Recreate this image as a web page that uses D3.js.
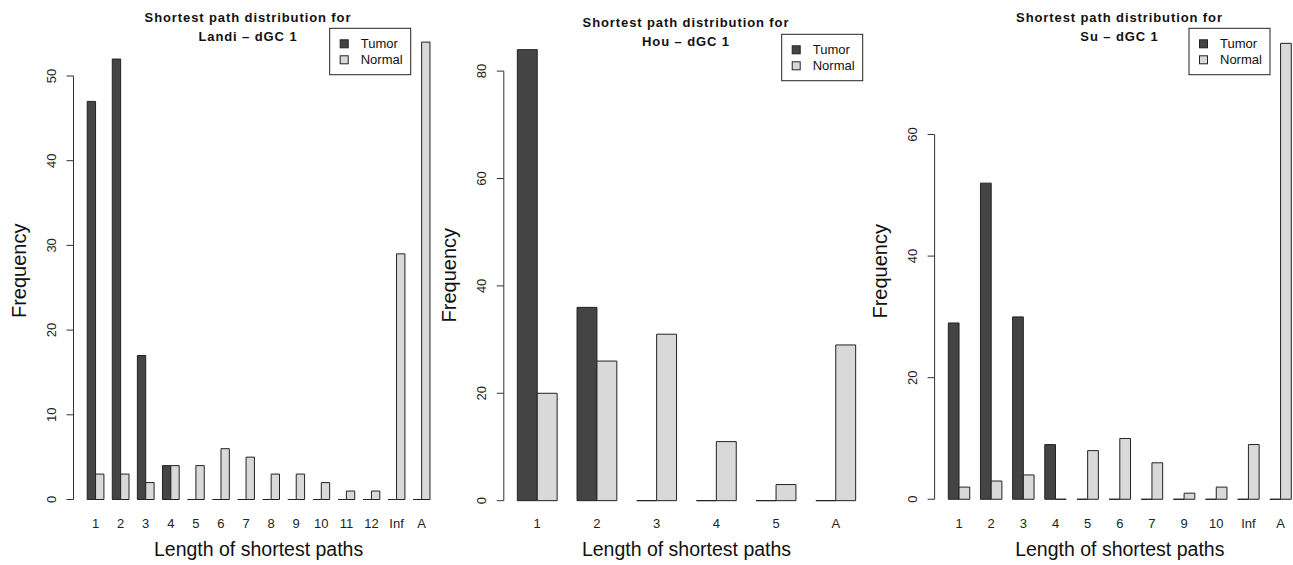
<!DOCTYPE html>
<html>
<head>
<meta charset="utf-8">
<script src="https://cdn.jsdelivr.net/npm/d3@7"></script>
<style>
  body { margin: 0; background: #fff; }
  svg { display: block; font-family: "Liberation Sans", Arial, sans-serif; }
</style>
</head>
<body>
<svg id="chart" width="1293" height="565"></svg>
<script>
// data
const landiCats   = ["1", "2", "3", "4", "5", "6", "7", "8", "9", "10", "11", "12", "Inf", "A"];
const landiTumor  = [47, 52, 17, 4, 0, 0, 0, 0, 0, 0, 0, 0, 0, 0];
const landiNormal = [3, 3, 2, 4, 4, 6, 5, 3, 3, 2, 1, 1, 29, 54];
const landiTicks  = [0, 10, 20, 30, 40, 50];

const houCats   = ["1", "2", "3", "4", "5", "A"];
const houTumor  = [84, 36, 0, 0, 0, 0];
const houNormal = [20, 26, 31, 11, 3, 29];
const houTicks  = [0, 20, 40, 60, 80];

const suCats   = ["1", "2", "3", "4", "5", "6", "7", "9", "10", "Inf", "A"];
const suTumor  = [29, 52, 30, 9, 0, 0, 0, 0, 0, 0, 0];
const suNormal = [2, 3, 4, 0, 8, 10, 6, 1, 2, 9, 75];
const suTicks  = [0, 20, 40, 60];

const seriesNames = ["Tumor", "Normal"];
const colors = {Tumor: "#444444", Normal: "#d9d9d9"};

const svg = d3.select("#chart");

// panel layout (plot regions in px)
const panels = [
  {name: "Landi", cats: landiCats, tumor: landiTumor, normal: landiNormal, ticks: landiTicks,
   left: 73.5, right: 443.7, top: 23.8, bottom: 517.8,
   titleX: 248, titleY: 22, legend: {x: 329.7, y: 28.3}, yLabX: 26},
  {name: "Hou", cats: houCats, tumor: houTumor, normal: houNormal, ticks: houTicks,
   left: 503.8, right: 869.2, top: 31.6, bottom: 518.7,
   titleX: 686, titleY: 27, legend: {x: 781.7, y: 34.3}, yLabX: 456},
  {name: "Su", cats: suCats, tumor: suTumor, normal: suNormal, ticks: suTicks,
   left: 934.6, right: 1305, top: 25.1, bottom: 517.5,
   titleX: 1119.5, titleY: 22, legend: {x: 1189, y: 28.3}, yLabX: 887}
];

panels.forEach(function (p) {
  let g = svg.append("g");
  let n = p.cats.length;
  let span = 3 * n - 1;

  // R barplot style: bars at unit positions 1..3n, with 4% padding
  let xUnits = d3.scaleLinear()
                 .domain([1 - 0.04 * span, 3 * n + 0.04 * span])
                 .range([p.left, p.right]);

  let x0 = d3.scaleBand()
             .domain(p.cats)
             .range([xUnits(1), xUnits(3 * n)])
             .paddingInner(1 / 3)
             .paddingOuter(0);

  let x1 = d3.scaleBand()
             .domain(seriesNames)
             .range([0, x0.bandwidth()]);

  let yMax = d3.max(p.tumor.concat(p.normal));
  let y = d3.scaleLinear()
            .domain([-0.04 * yMax, 1.04 * yMax])
            .range([p.bottom, p.top]);

  let rows = p.cats.map(function (c, i) {
    return {cat: c, values: [{key: "Tumor", val: p.tumor[i]}, {key: "Normal", val: p.normal[i]}]};
  });

  let groups = g.selectAll("g.grp")
                .data(rows)
                .enter()
                .append("g")
                .attr("class", "grp")
                .attr("transform", d => "translate(" + x0(d.cat) + ",0)");

  // bars as closed paths so that zero-height bars still show as a flat line
  groups.selectAll("path")
        .data(d => d.values)
        .enter()
        .append("path")
        .attr("d", function (d) {
          let bx = x1(d.key), w = x1.bandwidth();
          let y0 = y(0), h = y(0) - y(d.val);
          return "M" + bx + "," + y0 + "h" + w + "v" + (-h) + "h" + (-w) + "Z";
        })
        .attr("fill", d => colors[d.key])
        .attr("stroke", "#222")
        .attr("stroke-width", 1);

  // category labels
  g.selectAll("text.cat")
   .data(p.cats)
   .enter()
   .append("text")
   .attr("class", "cat")
   .attr("x", d => x0(d) + x0.bandwidth() / 2)
   .attr("y", 528)
   .attr("text-anchor", "middle")
   .attr("font-size", 13)
   .attr("fill", "#222")
   .text(d => d);

  // y axis
  let axis = g.append("g");
  let tMax = d3.max(p.ticks);
  axis.append("line")
      .attr("x1", p.left).attr("x2", p.left)
      .attr("y1", y(0)).attr("y2", y(tMax))
      .attr("stroke", "#333");
  axis.selectAll("line.tick")
      .data(p.ticks)
      .enter()
      .append("line")
      .attr("class", "tick")
      .attr("x1", p.left).attr("x2", p.left - 7)
      .attr("y1", d => y(d)).attr("y2", d => y(d))
      .attr("stroke", "#333");
  axis.selectAll("text")
      .data(p.ticks)
      .enter()
      .append("text")
      .attr("transform", d => "translate(" + (p.left - 18) + "," + y(d) + ") rotate(-90)")
      .attr("text-anchor", "middle")
      .attr("font-size", 13)
      .attr("fill", "#222")
      .text(d => d);

  // axis titles
  g.append("text")
   .attr("transform", "translate(" + p.yLabX + "," + (p.top + p.bottom) / 2 + ") rotate(-90)")
   .attr("text-anchor", "middle")
   .attr("font-size", 20)
   .attr("fill", "#111")
   .text("Frequency");

  g.append("text")
   .attr("x", (p.left + p.right) / 2)
   .attr("y", 556)
   .attr("text-anchor", "middle")
   .attr("font-size", 19.5)
   .attr("fill", "#111")
   .text("Length of shortest paths");

  // main title, two lines
  let title = g.append("text")
               .attr("text-anchor", "middle")
               .attr("font-size", 13)
               .attr("font-weight", "bold")
               .attr("letter-spacing", 0.9)
               .attr("fill", "#111");
  title.append("tspan").attr("x", p.titleX).attr("y", p.titleY).text("Shortest path distribution for");
  title.append("tspan").attr("x", p.titleX).attr("y", p.titleY + 18.5).text(p.name + " \u2013 dGC 1");

  // legend
  let lg = g.append("g").attr("transform", "translate(" + p.legend.x + "," + p.legend.y + ")");
  lg.append("rect")
    .attr("width", 81).attr("height", 46.4)
    .attr("fill", "#fff").attr("stroke", "#222");
  seriesNames.forEach(function (s, i) {
    lg.append("rect")
      .attr("x", 10.5).attr("y", 11.5 + i * 16)
      .attr("width", 8).attr("height", 8)
      .attr("fill", colors[s]).attr("stroke", "#222");
    lg.append("text")
      .attr("x", 31).attr("y", 20 + i * 16)
      .attr("font-size", 13)
      .attr("fill", "#111")
      .text(s);
  });
});
</script>
</body>
</html>
